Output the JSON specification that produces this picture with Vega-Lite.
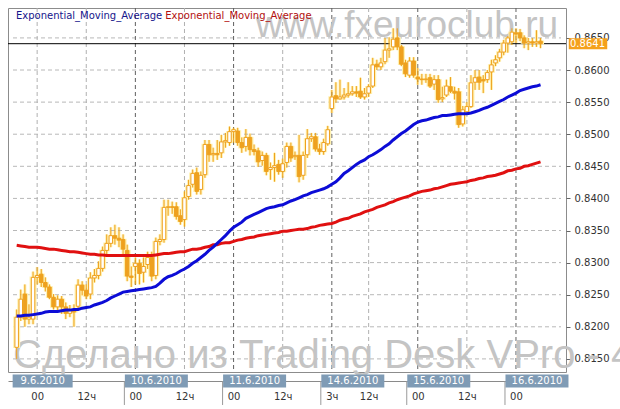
{
"$schema": "https://vega.github.io/schema/vega-lite/v6.json",
"width": 558, "height": 364,
"autosize": {"type": "none"},
"padding": {"left": 8, "top": 8, "right": 54, "bottom": 37},
"background": "white",
"config": {"view": {"stroke": "#8c8c8c", "strokeWidth": 1}, "font": "DejaVu Sans", "axisY": {"labelOverlap": false}},
"datasets": {
 "days": [{"day":"9.6.2010","first":5},{"day":"10.6.2010","first":29},{"day":"11.6.2010","first":53},{"day":"14.6.2010","first":77},{"day":"15.6.2010","first":98},{"day":"16.6.2010","first":122}],
 "noons": [{"bar":5},{"bar":17},{"bar":41},{"bar":65},{"bar":86},{"bar":110}],
 "levels": [{"v":0.815},{"v":0.82},{"v":0.825},{"v":0.83},{"v":0.835},{"v":0.84},{"v":0.845},{"v":0.85},{"v":0.855},{"v":0.86},{"v":0.865}]
},
"data": {"values": [
{"i":0,"o":0.8168,"h":0.8227,"l":0.8150,"c":0.8215,"ef":0.8217,"es":0.8327},
{"i":1,"o":0.8215,"h":0.8258,"l":0.8209,"c":0.8243,"ef":0.8217,"es":0.8326},
{"i":2,"o":0.8251,"h":0.8266,"l":0.8200,"c":0.8212,"ef":0.8218,"es":0.8325},
{"i":3,"o":0.8212,"h":0.8235,"l":0.8204,"c":0.8215,"ef":0.8218,"es":0.8324},
{"i":4,"o":0.8212,"h":0.8286,"l":0.8204,"c":0.8277,"ef":0.8219,"es":0.8324},
{"i":5,"o":0.8277,"h":0.8293,"l":0.8266,"c":0.8280,"ef":0.8220,"es":0.8324},
{"i":6,"o":0.8282,"h":0.8290,"l":0.8262,"c":0.8269,"ef":0.8221,"es":0.8323},
{"i":7,"o":0.8269,"h":0.8277,"l":0.8255,"c":0.8262,"ef":0.8223,"es":0.8322},
{"i":8,"o":0.8262,"h":0.8266,"l":0.8243,"c":0.8246,"ef":0.8224,"es":0.8321},
{"i":9,"o":0.8246,"h":0.8251,"l":0.8227,"c":0.8231,"ef":0.8224,"es":0.8321},
{"i":10,"o":0.8231,"h":0.8249,"l":0.8224,"c":0.8243,"ef":0.8224,"es":0.8320},
{"i":11,"o":0.8243,"h":0.8248,"l":0.8220,"c":0.8231,"ef":0.8225,"es":0.8319},
{"i":12,"o":0.8231,"h":0.8238,"l":0.8212,"c":0.8221,"ef":0.8226,"es":0.8318},
{"i":13,"o":0.8221,"h":0.8234,"l":0.8215,"c":0.8226,"ef":0.8226,"es":0.8317},
{"i":14,"o":0.8226,"h":0.8235,"l":0.8200,"c":0.8223,"ef":0.8227,"es":0.8317},
{"i":15,"o":0.8232,"h":0.8274,"l":0.8227,"c":0.8265,"ef":0.8227,"es":0.8316},
{"i":16,"o":0.8265,"h":0.8271,"l":0.8249,"c":0.8257,"ef":0.8229,"es":0.8315},
{"i":17,"o":0.8257,"h":0.8266,"l":0.8243,"c":0.8248,"ef":0.8230,"es":0.8314},
{"i":18,"o":0.8251,"h":0.8285,"l":0.8243,"c":0.8276,"ef":0.8231,"es":0.8313},
{"i":19,"o":0.8276,"h":0.8290,"l":0.8269,"c":0.8280,"ef":0.8234,"es":0.8313},
{"i":20,"o":0.8280,"h":0.8302,"l":0.8274,"c":0.8291,"ef":0.8236,"es":0.8312},
{"i":21,"o":0.8291,"h":0.8325,"l":0.8286,"c":0.8319,"ef":0.8238,"es":0.8312},
{"i":22,"o":0.8319,"h":0.8344,"l":0.8313,"c":0.8330,"ef":0.8241,"es":0.8311},
{"i":23,"o":0.8330,"h":0.8355,"l":0.8324,"c":0.8342,"ef":0.8245,"es":0.8311},
{"i":24,"o":0.8342,"h":0.8359,"l":0.8328,"c":0.8338,"ef":0.8248,"es":0.8311},
{"i":25,"o":0.8338,"h":0.8355,"l":0.8324,"c":0.8335,"ef":0.8251,"es":0.8311},
{"i":26,"o":0.8336,"h":0.8344,"l":0.8313,"c":0.8321,"ef":0.8254,"es":0.8311},
{"i":27,"o":0.8319,"h":0.8328,"l":0.8271,"c":0.8279,"ef":0.8255,"es":0.8311},
{"i":28,"o":0.8279,"h":0.8294,"l":0.8262,"c":0.8277,"ef":0.8256,"es":0.8311},
{"i":29,"o":0.8294,"h":0.8308,"l":0.8266,"c":0.8299,"ef":0.8257,"es":0.8311},
{"i":30,"o":0.8299,"h":0.8305,"l":0.8266,"c":0.8283,"ef":0.8258,"es":0.8311},
{"i":31,"o":0.8285,"h":0.8308,"l":0.8269,"c":0.8294,"ef":0.8259,"es":0.8311},
{"i":32,"o":0.8297,"h":0.8317,"l":0.8290,"c":0.8308,"ef":0.8260,"es":0.8311},
{"i":33,"o":0.8308,"h":0.8317,"l":0.8271,"c":0.8279,"ef":0.8261,"es":0.8311},
{"i":34,"o":0.8280,"h":0.8339,"l":0.8274,"c":0.8333,"ef":0.8263,"es":0.8312},
{"i":35,"o":0.8333,"h":0.8344,"l":0.8327,"c":0.8336,"ef":0.8268,"es":0.8313},
{"i":36,"o":0.8336,"h":0.8398,"l":0.8331,"c":0.8386,"ef":0.8274,"es":0.8314},
{"i":37,"o":0.8386,"h":0.8398,"l":0.8373,"c":0.8387,"ef":0.8278,"es":0.8314},
{"i":38,"o":0.8387,"h":0.8395,"l":0.8376,"c":0.8386,"ef":0.8280,"es":0.8315},
{"i":39,"o":0.8387,"h":0.8394,"l":0.8367,"c":0.8372,"ef":0.8283,"es":0.8316},
{"i":40,"o":0.8373,"h":0.8383,"l":0.8359,"c":0.8364,"ef":0.8287,"es":0.8317},
{"i":41,"o":0.8367,"h":0.8411,"l":0.8356,"c":0.8401,"ef":0.8290,"es":0.8317},
{"i":42,"o":0.8403,"h":0.8429,"l":0.8398,"c":0.8420,"ef":0.8294,"es":0.8319},
{"i":43,"o":0.8422,"h":0.8445,"l":0.8417,"c":0.8439,"ef":0.8299,"es":0.8321},
{"i":44,"o":0.8440,"h":0.8448,"l":0.8406,"c":0.8411,"ef":0.8303,"es":0.8321},
{"i":45,"o":0.8414,"h":0.8442,"l":0.8406,"c":0.8436,"ef":0.8308,"es":0.8322},
{"i":46,"o":0.8437,"h":0.8491,"l":0.8432,"c":0.8484,"ef":0.8313,"es":0.8324},
{"i":47,"o":0.8484,"h":0.8491,"l":0.8457,"c":0.8468,"ef":0.8319,"es":0.8325},
{"i":48,"o":0.8468,"h":0.8479,"l":0.8457,"c":0.8470,"ef":0.8324,"es":0.8328},
{"i":49,"o":0.8470,"h":0.8491,"l":0.8460,"c":0.8468,"ef":0.8330,"es":0.8328},
{"i":50,"o":0.8471,"h":0.8499,"l":0.8463,"c":0.8488,"ef":0.8336,"es":0.8330},
{"i":51,"o":0.8488,"h":0.8502,"l":0.8479,"c":0.8490,"ef":0.8342,"es":0.8331},
{"i":52,"o":0.8487,"h":0.8512,"l":0.8482,"c":0.8504,"ef":0.8349,"es":0.8331},
{"i":53,"o":0.8504,"h":0.8510,"l":0.8487,"c":0.8507,"ef":0.8355,"es":0.8333},
{"i":54,"o":0.8505,"h":0.8510,"l":0.8482,"c":0.8487,"ef":0.8359,"es":0.8335},
{"i":55,"o":0.8487,"h":0.8495,"l":0.8471,"c":0.8479,"ef":0.8363,"es":0.8336},
{"i":56,"o":0.8481,"h":0.8508,"l":0.8473,"c":0.8495,"ef":0.8369,"es":0.8338},
{"i":57,"o":0.8495,"h":0.8501,"l":0.8467,"c":0.8476,"ef":0.8372,"es":0.8339},
{"i":58,"o":0.8476,"h":0.8484,"l":0.8467,"c":0.8473,"ef":0.8375,"es":0.8340},
{"i":59,"o":0.8474,"h":0.8479,"l":0.8449,"c":0.8457,"ef":0.8378,"es":0.8342},
{"i":60,"o":0.8459,"h":0.8473,"l":0.8451,"c":0.8467,"ef":0.8381,"es":0.8343},
{"i":61,"o":0.8467,"h":0.8471,"l":0.8436,"c":0.8442,"ef":0.8384,"es":0.8344},
{"i":62,"o":0.8445,"h":0.8456,"l":0.8429,"c":0.8448,"ef":0.8386,"es":0.8345},
{"i":63,"o":0.8448,"h":0.8471,"l":0.8426,"c":0.8451,"ef":0.8387,"es":0.8346},
{"i":64,"o":0.8453,"h":0.8460,"l":0.8437,"c":0.8442,"ef":0.8389,"es":0.8347},
{"i":65,"o":0.8442,"h":0.8462,"l":0.8432,"c":0.8454,"ef":0.8390,"es":0.8349},
{"i":66,"o":0.8456,"h":0.8487,"l":0.8448,"c":0.8481,"ef":0.8393,"es":0.8349},
{"i":67,"o":0.8481,"h":0.8487,"l":0.8457,"c":0.8463,"ef":0.8396,"es":0.8350},
{"i":68,"o":0.8465,"h":0.8473,"l":0.8460,"c":0.8467,"ef":0.8398,"es":0.8351},
{"i":69,"o":0.8467,"h":0.8499,"l":0.8425,"c":0.8434,"ef":0.8401,"es":0.8352},
{"i":70,"o":0.8436,"h":0.8473,"l":0.8429,"c":0.8467,"ef":0.8404,"es":0.8352},
{"i":71,"o":0.8468,"h":0.8508,"l":0.8463,"c":0.8493,"ef":0.8406,"es":0.8353},
{"i":72,"o":0.8493,"h":0.8502,"l":0.8488,"c":0.8496,"ef":0.8409,"es":0.8355},
{"i":73,"o":0.8496,"h":0.8502,"l":0.8473,"c":0.8477,"ef":0.8411,"es":0.8356},
{"i":74,"o":0.8477,"h":0.8485,"l":0.8468,"c":0.8473,"ef":0.8413,"es":0.8358},
{"i":75,"o":0.8473,"h":0.8493,"l":0.8468,"c":0.8487,"ef":0.8415,"es":0.8359},
{"i":76,"o":0.8485,"h":0.8513,"l":0.8482,"c":0.8507,"ef":0.8418,"es":0.8360},
{"i":77,"o":0.8540,"h":0.8569,"l":0.8533,"c":0.8558,"ef":0.8422,"es":0.8361},
{"i":78,"o":0.8560,"h":0.8581,"l":0.8549,"c":0.8555,"ef":0.8426,"es":0.8363},
{"i":79,"o":0.8555,"h":0.8585,"l":0.8554,"c":0.8558,"ef":0.8432,"es":0.8366},
{"i":80,"o":0.8558,"h":0.8572,"l":0.8554,"c":0.8561,"ef":0.8439,"es":0.8368},
{"i":81,"o":0.8561,"h":0.8581,"l":0.8557,"c":0.8563,"ef":0.8443,"es":0.8369},
{"i":82,"o":0.8563,"h":0.8575,"l":0.8560,"c":0.8566,"ef":0.8448,"es":0.8372},
{"i":83,"o":0.8566,"h":0.8575,"l":0.8558,"c":0.8564,"ef":0.8453,"es":0.8374},
{"i":84,"o":0.8567,"h":0.8588,"l":0.8555,"c":0.8558,"ef":0.8457,"es":0.8376},
{"i":85,"o":0.8558,"h":0.8572,"l":0.8554,"c":0.8563,"ef":0.8460,"es":0.8379},
{"i":86,"o":0.8564,"h":0.8578,"l":0.8558,"c":0.8574,"ef":0.8465,"es":0.8381},
{"i":87,"o":0.8575,"h":0.8619,"l":0.8572,"c":0.8608,"ef":0.8468,"es":0.8383},
{"i":88,"o":0.8609,"h":0.8616,"l":0.8600,"c":0.8605,"ef":0.8472,"es":0.8386},
{"i":89,"o":0.8605,"h":0.8619,"l":0.8600,"c":0.8611,"ef":0.8476,"es":0.8388},
{"i":90,"o":0.8613,"h":0.8650,"l":0.8609,"c":0.8631,"ef":0.8481,"es":0.8390},
{"i":91,"o":0.8631,"h":0.8651,"l":0.8619,"c":0.8633,"ef":0.8485,"es":0.8393},
{"i":92,"o":0.8636,"h":0.8665,"l":0.8631,"c":0.8648,"ef":0.8491,"es":0.8395},
{"i":93,"o":0.8650,"h":0.8665,"l":0.8631,"c":0.8636,"ef":0.8496,"es":0.8398},
{"i":94,"o":0.8636,"h":0.8639,"l":0.8606,"c":0.8609,"ef":0.8501,"es":0.8400},
{"i":95,"o":0.8611,"h":0.8616,"l":0.8589,"c":0.8594,"ef":0.8505,"es":0.8402},
{"i":96,"o":0.8592,"h":0.8620,"l":0.8588,"c":0.8614,"ef":0.8510,"es":0.8404},
{"i":97,"o":0.8614,"h":0.8620,"l":0.8588,"c":0.8592,"ef":0.8515,"es":0.8407},
{"i":98,"o":0.8589,"h":0.8603,"l":0.8577,"c":0.8586,"ef":0.8519,"es":0.8409},
{"i":99,"o":0.8586,"h":0.8594,"l":0.8577,"c":0.8585,"ef":0.8521,"es":0.8411},
{"i":100,"o":0.8585,"h":0.8594,"l":0.8580,"c":0.8586,"ef":0.8522,"es":0.8412},
{"i":101,"o":0.8588,"h":0.8594,"l":0.8572,"c":0.8575,"ef":0.8524,"es":0.8413},
{"i":102,"o":0.8578,"h":0.8592,"l":0.8569,"c":0.8585,"ef":0.8526,"es":0.8415},
{"i":103,"o":0.8585,"h":0.8592,"l":0.8549,"c":0.8554,"ef":0.8527,"es":0.8416},
{"i":104,"o":0.8555,"h":0.8574,"l":0.8550,"c":0.8557,"ef":0.8529,"es":0.8418},
{"i":105,"o":0.8561,"h":0.8585,"l":0.8558,"c":0.8575,"ef":0.8529,"es":0.8420},
{"i":106,"o":0.8574,"h":0.8589,"l":0.8564,"c":0.8567,"ef":0.8530,"es":0.8422},
{"i":107,"o":0.8567,"h":0.8574,"l":0.8554,"c":0.8564,"ef":0.8531,"es":0.8423},
{"i":108,"o":0.8566,"h":0.8572,"l":0.8510,"c":0.8515,"ef":0.8532,"es":0.8424},
{"i":109,"o":0.8516,"h":0.8544,"l":0.8512,"c":0.8538,"ef":0.8532,"es":0.8425},
{"i":110,"o":0.8535,"h":0.8550,"l":0.8533,"c":0.8543,"ef":0.8532,"es":0.8426},
{"i":111,"o":0.8543,"h":0.8592,"l":0.8541,"c":0.8580,"ef":0.8533,"es":0.8428},
{"i":112,"o":0.8581,"h":0.8600,"l":0.8569,"c":0.8588,"ef":0.8535,"es":0.8429},
{"i":113,"o":0.8589,"h":0.8600,"l":0.8569,"c":0.8581,"ef":0.8537,"es":0.8431},
{"i":114,"o":0.8585,"h":0.8592,"l":0.8564,"c":0.8583,"ef":0.8540,"es":0.8432},
{"i":115,"o":0.8585,"h":0.8600,"l":0.8580,"c":0.8596,"ef":0.8542,"es":0.8434},
{"i":116,"o":0.8597,"h":0.8616,"l":0.8569,"c":0.8608,"ef":0.8545,"es":0.8435},
{"i":117,"o":0.8611,"h":0.8623,"l":0.8606,"c":0.8616,"ef":0.8548,"es":0.8436},
{"i":118,"o":0.8619,"h":0.8633,"l":0.8613,"c":0.8628,"ef":0.8551,"es":0.8438},
{"i":119,"o":0.8628,"h":0.8647,"l":0.8623,"c":0.8642,"ef":0.8554,"es":0.8440},
{"i":120,"o":0.8642,"h":0.8653,"l":0.8627,"c":0.8650,"ef":0.8558,"es":0.8443},
{"i":121,"o":0.8644,"h":0.8665,"l":0.8639,"c":0.8659,"ef":0.8561,"es":0.8444},
{"i":122,"o":0.8658,"h":0.8665,"l":0.8642,"c":0.8656,"ef":0.8564,"es":0.8446},
{"i":123,"o":0.8658,"h":0.8664,"l":0.8645,"c":0.8650,"ef":0.8568,"es":0.8447},
{"i":124,"o":0.8650,"h":0.8654,"l":0.8634,"c":0.8642,"ef":0.8570,"es":0.8450},
{"i":125,"o":0.8642,"h":0.8650,"l":0.8631,"c":0.8644,"ef":0.8572,"es":0.8451},
{"i":126,"o":0.8644,"h":0.8650,"l":0.8636,"c":0.8642,"ef":0.8574,"es":0.8453},
{"i":127,"o":0.8642,"h":0.8662,"l":0.8636,"c":0.8644,"ef":0.8575,"es":0.8455},
{"i":128,"o":0.8645,"h":0.8650,"l":0.8634,"c":0.8641,"ef":0.8577,"es":0.8457}
]},
"layer": [
{"mark": {"type": "rule", "color": "#fff1b0", "strokeWidth": 3},
 "encoding": {
  "x": {"field": "i", "type": "quantitative", "title": null, "scale": {"domain": [-0.9, 133], "nice": false, "zero": false},
        "axis": {"orient": "bottom", "values": [5,17,29,41,53,65,77,86,98,110,122],
                 "labelExpr": "datum.value == 77 ? '3ч' : (indexof([17,41,65,86,110], datum.value) >= 0 ? '12ч' : '00')",
                 "grid": false, "ticks": false, "tickSize": 0, "domain": true, "domainColor": "#8a8a8a", "offset": 9, "labelPadding": 10,
                 "labelFont": "DejaVu Sans", "labelFontSize": 10, "labelColor": "#333333", "labelFlush": false, "labelOverlap": false, "title": null}},
  "y": {"field": "l", "type": "quantitative", "title": null, "scale": {"domain": [0.81296, 0.86966], "nice": false, "zero": false},
        "axis": {"orient": "right", "tickCount": 12, "format": ".4f",
                 "grid": false, "tickSize": 4, "tickColor": "#666666", "domain": false, "labelOverlap": false, "labelBound": false,
                 "labelPadding": 4, "labelFont": "DejaVu Sans", "labelFontSize": 10, "labelColor": "#333333", "title": null}},
  "y2": {"field": "h"}}},
{"data": {"name": "levels"},
 "mark": {"type": "rule", "color": "#b8b8b8", "strokeWidth": 1, "strokeDash": [4, 3]},
 "encoding": {"y": {"field": "v", "type": "quantitative", "title": null}, "x": {"datum": -0.9}, "x2": {"datum": 133}}},
{"data": {"name": "noons"},
 "mark": {"type": "rule", "color": "#b0b0b0", "strokeWidth": 1, "strokeDash": [4, 3]},
 "encoding": {"x": {"field": "bar", "type": "quantitative", "title": null}, "y": {"datum": 0.86966}, "y2": {"datum": 0.81296}}},
{"data": {"name": "days"},
 "transform": [{"filter": "datum.day != '9.6.2010'"}],
 "mark": {"type": "rule", "color": "#606060", "strokeWidth": 1, "strokeDash": [4, 3], "opacity": 1},
 "encoding": {"x": {"field": "first", "type": "quantitative", "title": null}, "y": {"datum": 0.86966}, "y2": {"datum": 0.81296}}},
{"data": {"values": [{}]},
 "mark": {"type": "text", "text": "www.fxeuroclub.ru", "font": "Liberation Sans", "fontSize": 37, "color": "#c4c4c4", "align": "right", "baseline": "alphabetic"},
 "encoding": {"x": {"datum": 132.3, "title": null}, "y": {"datum": 0.86514, "title": null}}},
{"data": {"values": [{}]},
 "mark": {"type": "text", "text": "Сделано из Trading Desk VPro - 4", "font": "Liberation Sans", "fontSize": 40, "color": "#c4c4c4", "align": "left", "baseline": "alphabetic"},
 "encoding": {"x": {"datum": -0.9, "title": null}, "y": {"datum": 0.81358, "title": null}}},
{"data": {"values": [{"p": 0.8641}]},
 "mark": {"type": "rule", "color": "#000000", "strokeWidth": 1},
 "encoding": {"y": {"field": "p", "type": "quantitative", "title": null}}},
{"mark": {"type": "bar", "width": 5.5, "color": "#fff1b0", "stroke": "#fff1b0", "strokeWidth": 1.5},
 "encoding": {"x": {"field": "i", "type": "quantitative", "title": null},
              "y": {"field": "o", "type": "quantitative", "title": null}, "y2": {"field": "c"}}},
{"mark": {"type": "rule", "color": "#eea11f", "strokeWidth": 1},
 "encoding": {"x": {"field": "i", "type": "quantitative", "title": null},
              "y": {"field": "l", "type": "quantitative", "title": null}, "y2": {"field": "h"}}},
{"mark": {"type": "bar", "width": 3.5, "stroke": "#eea11f", "strokeWidth": 1},
 "encoding": {"x": {"field": "i", "type": "quantitative", "title": null},
              "y": {"field": "o", "type": "quantitative", "title": null}, "y2": {"field": "c"},
              "fill": {"condition": {"test": "datum.c >= datum.o", "value": "#ffffff"}, "value": "#eea11f"}}},
{"mark": {"type": "line", "color": "#e01010", "strokeWidth": 3},
 "encoding": {"x": {"field": "i", "type": "quantitative", "title": null},
              "y": {"field": "es", "type": "quantitative", "title": null}}},
{"mark": {"type": "line", "color": "#0c0cd6", "strokeWidth": 3},
 "encoding": {"x": {"field": "i", "type": "quantitative", "title": null},
              "y": {"field": "ef", "type": "quantitative", "title": null}}},
{"data": {"values": [{}]},
 "mark": {"type": "text", "text": "Exponential_Moving_Average", "font": "DejaVu Sans", "fontSize": 10, "color": "#16168c", "align": "left", "baseline": "alphabetic"},
 "encoding": {"x": {"datum": -0.18, "title": null}, "y": {"datum": 0.86787, "title": null}}},
{"data": {"values": [{}]},
 "mark": {"type": "text", "text": "Exponential_Moving_Average", "font": "DejaVu Sans", "fontSize": 10, "color": "#b30f0f", "align": "left", "baseline": "alphabetic"},
 "encoding": {"x": {"datum": 36.3, "title": null}, "y": {"datum": 0.86787, "title": null}}},
{"data": {"values": [{"p": 0.8641}]},
 "mark": {"type": "rect", "color": "#f5a11c", "height": 11},
 "encoding": {"x": {"datum": 134.9, "title": null}, "x2": {"datum": 144.3}, "y": {"field": "p", "type": "quantitative", "title": null}}},
{"data": {"values": [{"p": 0.8641}]},
 "mark": {"type": "text", "color": "#ffffff", "font": "DejaVu Sans", "fontSize": 10, "align": "left", "baseline": "middle"},
 "encoding": {"x": {"datum": 135.2, "title": null}, "y": {"field": "p", "type": "quantitative", "title": null}, "text": {"field": "p", "format": ".4f"}}},
{"data": {"name": "days"},
 "transform": [{"filter": "datum.day != '9.6.2010'"}],
 "mark": {"type": "rule", "color": "#9a9a9a", "strokeWidth": 1, "xOffset": -11},
 "encoding": {"x": {"field": "first", "type": "quantitative", "title": null}, "y": {"datum": 0.81156, "title": null}, "y2": {"datum": 0.80782}}},
{"data": {"name": "days"},
 "transform": [{"filter": "datum.day != '9.6.2010'"}],
 "mark": {"type": "rect", "color": "#7f9bb5", "width": 63, "height": 13, "xOffset": 21},
 "encoding": {"x": {"field": "first", "type": "quantitative", "title": null}, "y": {"datum": 0.81156, "title": null}}},
{"data": {"name": "days"},
 "transform": [{"filter": "datum.day != '9.6.2010'"}],
 "mark": {"type": "text", "color": "#ffffff", "font": "DejaVu Sans", "fontSize": 10, "align": "center", "baseline": "middle", "xOffset": 21},
 "encoding": {"x": {"field": "first", "type": "quantitative", "title": null}, "y": {"datum": 0.81156, "title": null}, "text": {"field": "day"}}},
{"data": {"name": "days"},
 "transform": [{"filter": "datum.day == '9.6.2010'"}],
 "mark": {"type": "rect", "color": "#7f9bb5", "width": 60, "height": 13, "xOffset": 5.5},
 "encoding": {"x": {"field": "first", "type": "quantitative", "title": null}, "y": {"datum": 0.81156, "title": null}}},
{"data": {"name": "days"},
 "transform": [{"filter": "datum.day == '9.6.2010'"}],
 "mark": {"type": "text", "color": "#ffffff", "font": "DejaVu Sans", "fontSize": 10, "align": "center", "baseline": "middle", "xOffset": 5.5},
 "encoding": {"x": {"field": "first", "type": "quantitative", "title": null}, "y": {"datum": 0.81156, "title": null}, "text": {"field": "day"}}}
]
}
